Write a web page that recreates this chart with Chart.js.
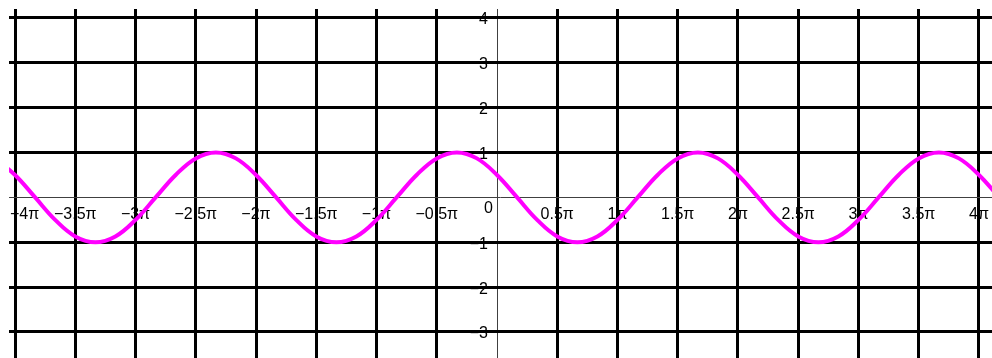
<!DOCTYPE html>
<html lang="en">
<head>
    <meta charset="UTF-8">
    <title>cos wave</title>
    <script src="https://cdn.jsdelivr.net/npm/chart.js"></script>
    <style>
        body { margin: 0; background: #fff; }
        #wrap { width: 992px; height: 358px; }
    </style>
</head>
<body>
    <div id="wrap"><canvas id="waveChart"></canvas></div>

    <script>
        // x in multiples of pi, y
        const xValues = [-4.167, -4, -3.833, -3.667, -3.5, -3.333, -3.167, -3, -2.833, -2.667, -2.5, -2.333, -2.167,
            -2, -1.833, -1.667, -1.5, -1.333, -1.167, -1, -0.833, -0.667, -0.5, -0.333, -0.167, 0,
            0.167, 0.333, 0.5, 0.667, 0.833, 1, 1.167, 1.333, 1.5, 1.667, 1.833, 2, 2.167, 2.333,
            2.5, 2.667, 2.833, 3, 3.167, 3.333, 3.5, 3.667, 3.833, 4, 4.167];
        const yValues = [0.87,
            0.5, 0, -0.5, -0.87, -1, -0.87, -0.5, 0, 0.5, 0.87, 1, 0.87,
            0.5, 0, -0.5, -0.87, -1, -0.87, -0.5, 0, 0.5, 0.87, 1, 0.87,
            0.5, 0, -0.5, -0.87, -1, -0.87, -0.5, 0, 0.5, 0.87, 1, 0.87,
            0.5, 0, -0.5, -0.87, -1, -0.87, -0.5, 0, 0.5, 0.87, 1, 0.87,
            0.5, 0];

        // tick positions and labels
        const xTickValues = [-4, -3.5, -3, -2.5, -2, -1.5, -1, -0.5, 0, 0.5, 1, 1.5, 2, 2.5, 3, 3.5, 4];
        const xTickLabels = ['−4π', '−3.5π', '−3π', '−2.5π', '−2π', '−1.5π', '−1π', '−0.5π', '0',
            '0.5π', '1π', '1.5π', '2π', '2.5π', '3π', '3.5π', '4π'];
        const yTickValues = [4, 3, 2, 1, 0, -1, -2, -3];
        const yTickLabels = ['4', '3', '2', '1', '', '−1', '−2', '−3'];

        const points = xValues.map((x, i) => ({ x: x, y: yValues[i] }));

        // labels go under the grid lines, so draw them before the scales
        const axisLabels = {
            id: 'axisLabels',
            beforeDraw(chart) {
                const ctx = chart.ctx;
                const area = chart.chartArea;
                const xs = chart.scales.x, ys = chart.scales.y;
                const ox = xs.getPixelForValue(0), oy = ys.getPixelForValue(0);
                ctx.save();
                ctx.font = '16px "Liberation Sans", Arial, sans-serif';
                ctx.fillStyle = '#000';
                ctx.textBaseline = 'middle';
                xTickValues.forEach((v, i) => {
                    const txt = xTickLabels[i];
                    if (v === 0) {
                        ctx.textAlign = 'right';
                        ctx.fillText(txt, ox - 4, oy + 11);
                        return;
                    }
                    const w = ctx.measureText(txt).width;
                    let left = xs.getPixelForValue(v) - w / 2;
                    left = Math.max(area.left + 1, Math.min(left, area.right - w - 2));
                    ctx.textAlign = 'left';
                    ctx.fillText(txt, left, oy + 17);
                });
                ctx.textAlign = 'right';
                yTickValues.forEach((v, i) => {
                    if (yTickLabels[i]) ctx.fillText(yTickLabels[i], ox - 9, ys.getPixelForValue(v) + 2);
                });
                ctx.restore();
            }
        };

        const gridWidth = c => (c.tick && c.tick.value === 0 ? 1 : 3);
        const gridColor = c => (c.tick && c.tick.value === 0 ? '#404040' : '#000');

        new Chart(document.getElementById('waveChart'), {
            type: 'line',
            data: {
                datasets: [{
                    data: points,
                    borderColor: '#ff00ff',
                    borderWidth: 4,
                    pointRadius: 0,
                    tension: 0.4,
                    fill: false
                }]
            },
            options: {
                responsive: true,
                maintainAspectRatio: false,
                animation: false,
                layout: { padding: { left: 9, top: 9, right: 0, bottom: 0 } },
                plugins: { legend: { display: false }, tooltip: { enabled: false } },
                scales: {
                    x: {
                        type: 'linear',
                        min: -4.05,
                        max: 4.108,
                        afterBuildTicks: s => { s.ticks = xTickValues.map(v => ({ value: v })); },
                        ticks: { display: false },
                        border: { display: false },
                        grid: { drawTicks: false, lineWidth: gridWidth, color: gridColor }
                    },
                    y: {
                        type: 'linear',
                        min: -3.58,
                        max: 4.2,
                        afterBuildTicks: s => { s.ticks = yTickValues.map(v => ({ value: v })); },
                        ticks: { display: false },
                        border: { display: false },
                        grid: { drawTicks: false, lineWidth: gridWidth, color: gridColor }
                    }
                }
            },
            plugins: [axisLabels]
        });
    </script>
</body>
</html>
